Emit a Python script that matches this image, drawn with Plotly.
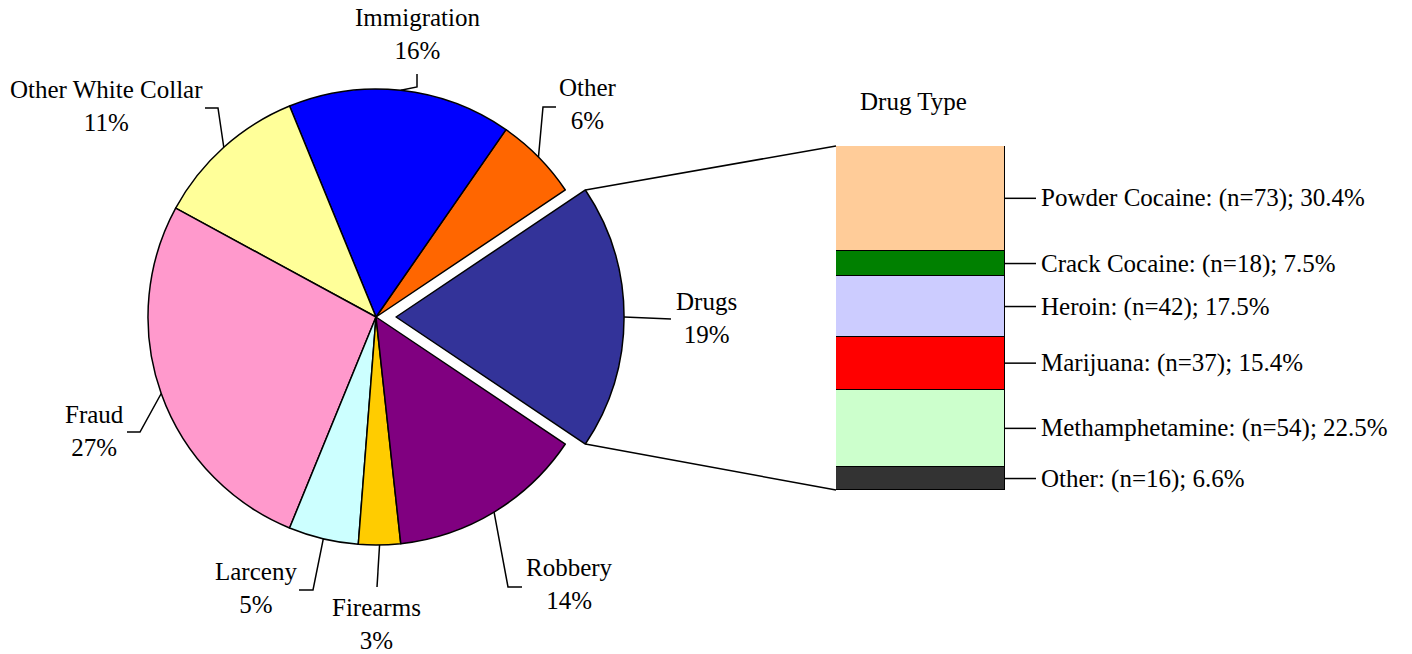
import math
import plotly.graph_objects as go

W, H = 1412, 654

# ---------------- data ----------------
crime_types = ["Drugs", "Other", "Immigration", "Other White Collar",
               "Fraud", "Larceny", "Firearms", "Robbery"]
crime_pct = [19, 6, 16, 11, 27, 5, 3, 14]
crime_colors = ["#333399", "#FF6600", "#0000FF", "#FFFF99",
                "#FF99CC", "#CCFFFF", "#FFCC00", "#800080"]

drug_types = ["Powder Cocaine", "Crack Cocaine", "Heroin",
              "Marijuana", "Methamphetamine", "Other"]
drug_counts = [73, 18, 42, 37, 54, 16]
drug_pct = [30.4, 7.5, 17.5, 15.4, 22.5, 6.6]
drug_colors = ["#FFCC99", "#008000", "#CCCCFF", "#FF0000", "#CCFFCC", "#333333"]

bar_title = "Drug Type"

# ---------------- layout geometry (pixels) ----------------
FONT = "Liberation Serif, Times New Roman, serif"
FS = 25
PIE_CX, PIE_CY, PIE_R = 376, 317, 228
PULL = 0.088
BAR_X0, BAR_X1, BAR_Y0, BAR_Y1 = 836, 1005, 146, 490
BAR_LINE_END, BAR_TEXT_X = 1036, 1039

# label text centres and leader elbows (pixels) for each pie slice
pie_label_pos = {
    "Drugs": ((706, 318), [(671, 319)]),
    "Other": ((588, 104), [(543, 107), (556, 107)]),
    "Immigration": ((417, 34), [(417, 87), (417, 74)]),
    "Other White Collar": ((106, 106), [(218, 108), (205, 108)]),
    "Fraud": ((94, 431), [(140, 432), (127, 432)]),
    "Larceny": ((256, 588), [(313, 590), (299, 590)]),
    "Firearms": ((376, 624), [(377, 587)]),
    "Robbery": ((569, 584), [(508, 587), (522, 587)]),
}


def px(x):
    return x / W


def py(y):
    return 1 - y / H


half = PIE_R * (1 + PULL)
pie_dom_x = [px(PIE_CX - half), px(PIE_CX + half)]
pie_dom_y = [py(PIE_CY + half), py(PIE_CY - half)]

total = sum(crime_pct)
drug_half = 180.0 * crime_pct[0] / total
rotation = 90 - drug_half
pulls = [PULL] + [0] * (len(crime_pct) - 1)

fig = go.Figure()
fig.add_trace(go.Pie(
    labels=crime_types, values=crime_pct, sort=False,
    direction="counterclockwise", rotation=rotation, pull=pulls,
    marker=dict(colors=crime_colors, line=dict(color="black", width=1.5)),
    textinfo="none", hoverinfo="skip", showlegend=False,
    domain=dict(x=pie_dom_x, y=pie_dom_y),
))

# stacked bar (bottom first)
for name, n, c in reversed(list(zip(drug_types, drug_counts, drug_colors))):
    fig.add_trace(go.Bar(
        x=[0], y=[n], width=1, name=name,
        marker=dict(color=c, line=dict(color="black", width=1.5)),
        hoverinfo="skip", showlegend=False,
    ))

shapes = []
annotations = []
line_style = dict(color="black", width=1.5)

# pie labels with leader lines
a = -drug_half
for i, (name, v) in enumerate(zip(crime_types, crime_pct)):
    span = 360.0 * v / total
    mid = math.radians(a + span / 2)
    off = pulls[i] * PIE_R
    ax = PIE_CX + (PIE_R + off) * math.cos(mid)
    ay = PIE_CY - (PIE_R + off) * math.sin(mid)
    (tx, ty), elbows = pie_label_pos[name]
    pts = [(ax, ay)] + elbows
    path = "M " + " L ".join(f"{px(x):.5f},{py(y):.5f}" for x, y in pts)
    shapes.append(dict(type="path", xref="paper", yref="paper", path=path,
                       line=line_style))
    annotations.append(dict(
        x=px(tx), y=py(ty), xref="paper", yref="paper",
        text=f"{name}<br>{v}%", showarrow=False,
        xanchor="center", yanchor="middle", align="center",
        font=dict(family=FONT, size=FS, color="black"),
    ))
    a += span

# connector lines from exploded slice to bar
off = PULL * PIE_R
dh = math.radians(drug_half)
top_c = (PIE_CX + off + PIE_R * math.cos(dh), PIE_CY - PIE_R * math.sin(dh))
bot_c = (PIE_CX + off + PIE_R * math.cos(dh), PIE_CY + PIE_R * math.sin(dh))
for (x0, y0), (x1, y1) in [(top_c, (BAR_X0, BAR_Y0)), (bot_c, (BAR_X0, BAR_Y1))]:
    shapes.append(dict(type="line", xref="paper", yref="paper",
                       x0=px(x0), y0=py(y0), x1=px(x1), y1=py(y1),
                       line=line_style))

# bar labels
drug_total = sum(drug_counts)
top = drug_total
for name, n, p in zip(drug_types, drug_counts, drug_pct):
    mid = top - n / 2
    shapes.append(dict(type="line", xref="paper", yref="y",
                       x0=px(BAR_X1), x1=px(BAR_LINE_END), y0=mid, y1=mid,
                       line=line_style))
    annotations.append(dict(
        x=px(BAR_TEXT_X), y=mid, xref="paper", yref="y",
        text=f"{name}: (n={n}); {p}%", showarrow=False,
        xanchor="left", yanchor="middle",
        font=dict(family=FONT, size=FS, color="black"),
    ))
    top -= n

annotations.append(dict(
    x=px(913), y=py(102), xref="paper", yref="paper", text=bar_title,
    showarrow=False, xanchor="center", yanchor="middle",
    font=dict(family=FONT, size=FS, color="black"),
))

fig.update_layout(
    width=W, height=H,
    margin=dict(l=0, r=0, t=0, b=0),
    paper_bgcolor="white", plot_bgcolor="white",
    barmode="stack", bargap=0,
    xaxis=dict(domain=[px(BAR_X0), px(BAR_X1)], range=[-0.5, 0.5],
               visible=False, fixedrange=True),
    yaxis=dict(domain=[py(BAR_Y1), py(BAR_Y0)], range=[0, drug_total],
               visible=False, fixedrange=True),
    shapes=shapes, annotations=annotations,
    font=dict(family=FONT, size=FS, color="black"),
)

fig.write_html(
    "out.html",
    config={"displayModeBar": False},
    post_script="document.body.style.margin='0px';document.body.style.padding='0px';",
)
